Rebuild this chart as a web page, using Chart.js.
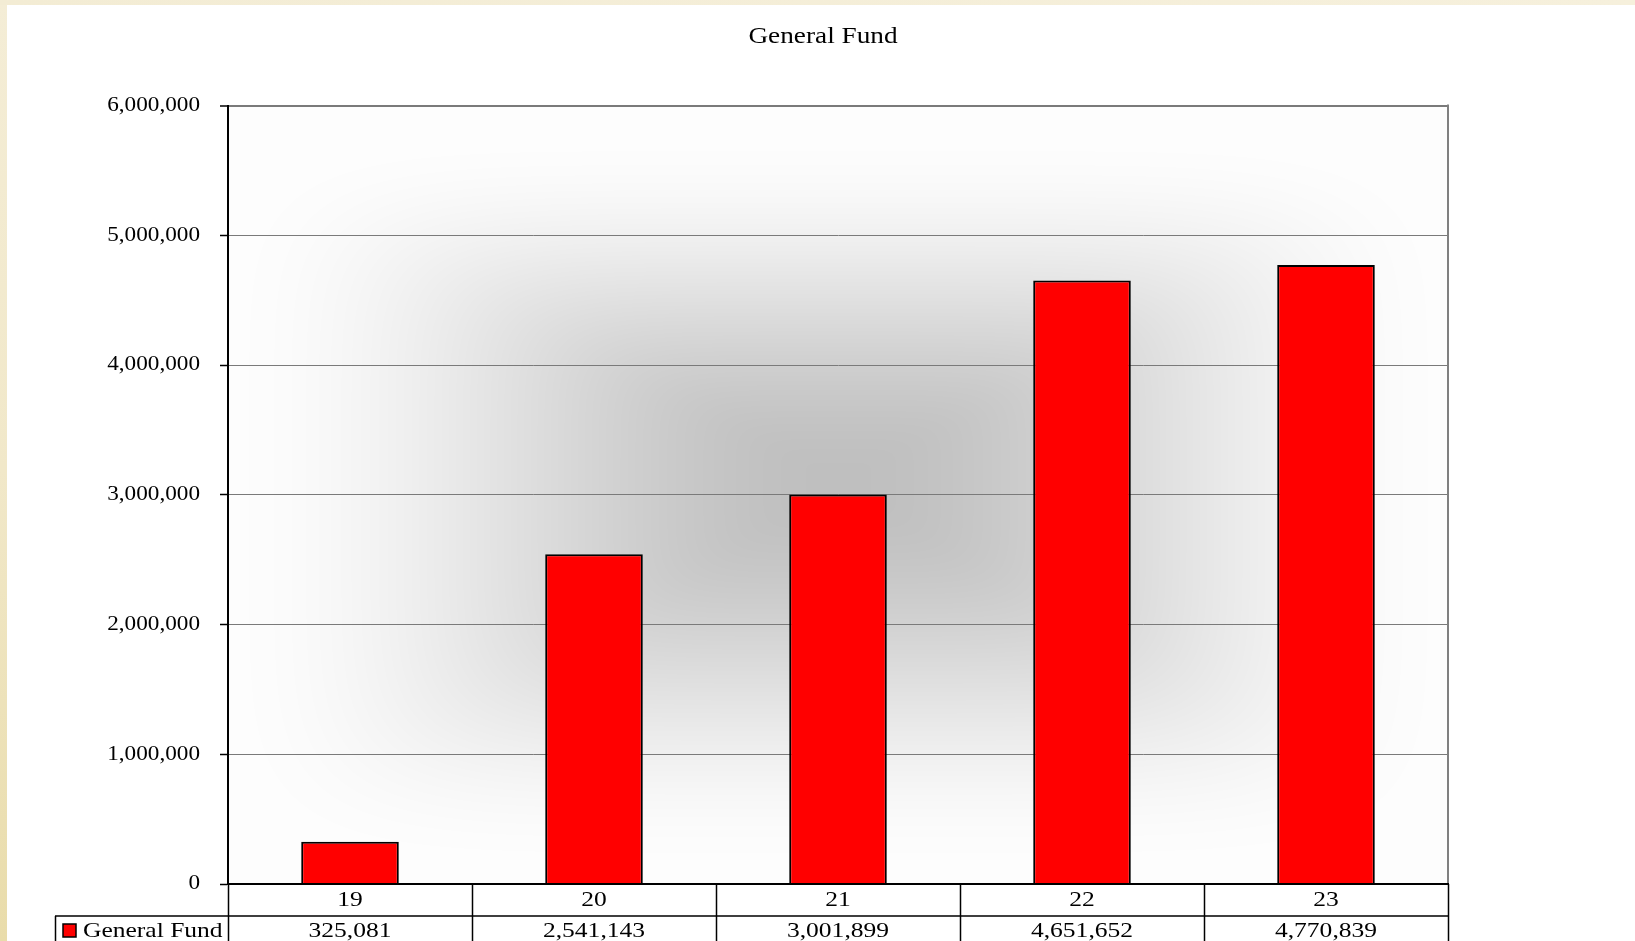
<!DOCTYPE html>
<html>
<head>
<meta charset="utf-8">
<script src="https://cdn.jsdelivr.net/npm/chart.js@4.4.1/dist/chart.umd.min.js"></script>
<style>
html,body{margin:0;padding:0;background:#fff;}
#wrap{width:1635px;height:941px;position:relative;}
</style>
</head>
<body>
<div id="wrap"><canvas id="c" width="1635" height="941"></canvas></div>
<script>
// ---- data ----
const chartTitle = 'General Fund';
const categories = ['19', '20', '21', '22', '23'];
const seriesName = 'General Fund';
const seriesValues = [325081, 2541143, 3001899, 4651652, 4770839];
const yMin = 0;
const yMax = 6000000;
const yStep = 1000000;

const SERIF = "'Liberation Serif', 'Times New Roman', serif";
const STRETCH = 1.16;
const fmt = v => Number(v).toLocaleString('en-US');

// linear scale whose labels are drawn horizontally stretched (the reference text is wide)
class StretchLinear extends Chart.LinearScale {
  drawLabels(area) {
    const ctx = this.ctx;
    const px = this.right - this.options.grid.tickLength - this.options.ticks.padding;
    ctx.save();
    ctx.translate(px, 0);
    ctx.scale(STRETCH, 1);
    ctx.translate(-px, 0);
    super.drawLabels(area);
    ctx.restore();
  }
}
StretchLinear.id = 'stretchLinear';
StretchLinear.defaults = Chart.LinearScale.defaults;
Chart.register(StretchLinear);

function stretchText(ctx, text, x, y, align) {
  ctx.save();
  ctx.translate(x, y);
  ctx.scale(STRETCH, 1);
  ctx.textAlign = align;
  ctx.fillText(text, 0, 0);
  ctx.restore();
}

let bgCache = null;
function plotBackground(w, h) {
  if (bgCache && bgCache.width === w && bgCache.height === h) return bgCache;
  const cv = document.createElement('canvas');
  cv.width = w; cv.height = h;
  const cx = cv.getContext('2d');
  const img = cx.createImageData(w, h);
  const ccx = w * 0.5, ccy = h * 0.481;
  const p = 6;
  for (let y = 0; y < h; y++) {
    const ny = Math.abs(y - ccy) / (y < ccy ? ccy * 0.93 : (h - ccy) * 0.97);
    for (let x = 0; x < w; x++) {
      const nx = Math.abs(x - ccx) / ((x < ccx ? ccx : w - ccx) * 1.02);
      let t = Math.pow(Math.pow(nx, p) + Math.pow(ny, p), 1 / p);
      if (t > 1) t = 1;
      const s = t * t * (3 - 2 * t);
      const c = Math.round(191 + 62 * s);
      const i = (y * w + x) * 4;
      img.data[i] = c; img.data[i + 1] = c; img.data[i + 2] = c; img.data[i + 3] = 255;
    }
  }
  cx.putImageData(img, 0, 0);
  bgCache = cv;
  return cv;
}

const decor = {
  id: 'decor',
  beforeDraw(chart) {
    const ctx = chart.ctx, W = chart.width, H = chart.height;
    const a = chart.chartArea;
    ctx.save();
    ctx.fillStyle = '#ffffff';
    ctx.fillRect(0, 0, W, H);
    const g = ctx.createLinearGradient(0, 0, 0, H);
    g.addColorStop(0, '#f4edd6');
    g.addColorStop(0.5, '#f1e8c9');
    g.addColorStop(1, '#e9dcaa');
    ctx.fillStyle = g;
    ctx.fillRect(0, 0, 7, H);
    const g2 = ctx.createLinearGradient(0, 0, W, 0);
    g2.addColorStop(0, '#f3ecd4');
    g2.addColorStop(1, '#f6f0dc');
    ctx.fillStyle = g2;
    ctx.fillRect(0, 0, W, 5);
    const w = Math.round(a.right - a.left), h = Math.round(a.bottom - a.top);
    ctx.drawImage(plotBackground(w, h), Math.round(a.left), Math.round(a.top));
    ctx.restore();
  },
  afterDraw(chart) {
    const ctx = chart.ctx, a = chart.chartArea, xs = chart.scales.x;
    const n = categories.length;
    const cw = (a.right - a.left) / n;
    const rowTop = a.bottom, rowMid = a.bottom + 32, rowBot = chart.height + 2;
    const legendLeft = 55;
    ctx.save();
    // title
    ctx.fillStyle = '#000';
    ctx.font = '23.5px ' + SERIF;
    ctx.textBaseline = 'middle';
    stretchText(ctx, chartTitle, 823, 37, 'center');
    // right plot border
    ctx.strokeStyle = '#808080';
    ctx.lineWidth = 2;
    ctx.beginPath();
    ctx.moveTo(a.right, a.top - 1);
    ctx.lineTo(a.right, a.bottom);
    ctx.stroke();
    // table lines
    ctx.strokeStyle = '#000';
    ctx.lineWidth = 1.5;
    ctx.beginPath();
    for (let i = 0; i <= n; i++) {
      const x = Math.round(a.left + i * cw) + 0.5;
      ctx.moveTo(x, rowTop);
      ctx.lineTo(x, rowBot);
    }
    ctx.moveTo(legendLeft, rowMid);
    ctx.lineTo(a.right, rowMid);
    ctx.moveTo(legendLeft + 0.5, rowMid);
    ctx.lineTo(legendLeft + 0.5, rowBot);
    ctx.stroke();
    // x axis line
    ctx.lineWidth = 2;
    ctx.beginPath();
    ctx.moveTo(a.left, a.bottom);
    ctx.lineTo(a.right + 1, a.bottom);
    ctx.stroke();
    // table texts
    ctx.fillStyle = '#000';
    ctx.font = '22px ' + SERIF;
    ctx.textBaseline = 'middle';
    for (let i = 0; i < n; i++) {
      const x = xs.getPixelForValue(i);
      stretchText(ctx, categories[i], x, rowTop + 16, 'center');
      stretchText(ctx, fmt(seriesValues[i]), x, rowMid + 15, 'center');
    }
    // legend key
    const ds = chart.data.datasets[0];
    ctx.fillStyle = ds.backgroundColor;
    ctx.fillRect(63, rowMid + 8, 13, 13);
    ctx.strokeStyle = '#000';
    ctx.lineWidth = 1.5;
    ctx.strokeRect(63, rowMid + 8, 13, 13);
    ctx.fillStyle = '#000';
    stretchText(ctx, ds.label, 83, rowMid + 15, 'left');
    ctx.restore();
  }
};

new Chart(document.getElementById('c'), {
  type: 'bar',
  data: {
    labels: categories,
    datasets: [{
      label: seriesName,
      data: seriesValues,
      backgroundColor: '#ff0000',
      borderColor: '#000000',
      borderWidth: 2,
      barPercentage: 0.4,
      categoryPercentage: 1.0
    }]
  },
  options: {
    responsive: false,
    animation: false,
    devicePixelRatio: 1,
    layout: { padding: { left: 0, right: 187, top: 105.5, bottom: 0 } },
    plugins: {
      legend: { display: false },
      tooltip: { enabled: false },
      title: { display: false, text: chartTitle }
    },
    scales: {
      x: {
        type: 'category',
        ticks: { display: false },
        grid: { display: false },
        border: { display: false },
        afterFit: s => { s.height = 57; }
      },
      y: {
        type: 'stretchLinear',
        min: yMin,
        max: yMax,
        ticks: {
          stepSize: yStep,
          color: '#000',
          font: { family: SERIF, size: 20 },
          padding: 20,
          callback: v => fmt(v)
        },
        grid: {
          color: '#7a7a7a',
          lineWidth: c => (c.tick && c.tick.value === yMax ? 2 : 1),
          tickLength: 8,
          tickColor: '#000',
          tickWidth: 1.5
        },
        border: { display: true, color: '#000', width: 2 },
        afterFit: s => { s.width = 228; }
      }
    }
  },
  plugins: [decor]
});
</script>
</body>
</html>
